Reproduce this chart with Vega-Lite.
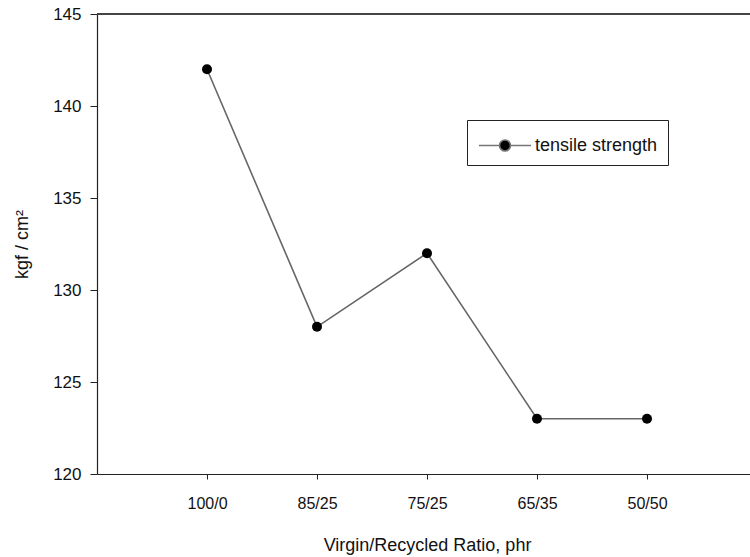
{
  "$schema": "https://vega.github.io/schema/vega-lite/v6.json",
  "autosize": {"type": "none"},
  "padding": {"left": 97, "top": 14, "right": 0, "bottom": 83},
  "width": 660,
  "height": 460,
  "background": "white",
  "config": {
    "font": "Liberation Sans",
    "view": {"stroke": null},
    "axis": {"labelFont": "Liberation Sans", "titleFont": "Liberation Sans", "grid": false, "domainColor": "#222", "tickColor": "#222", "labelColor": "#111", "titleColor": "#111", "titleFontWeight": "normal", "domainWidth": 1.2}
  },
  "data": {"values": [
    {"ratio": "100/0", "kgf": 142, "series": "tensile strength"},
    {"ratio": "85/25", "kgf": 128, "series": "tensile strength"},
    {"ratio": "75/25", "kgf": 132, "series": "tensile strength"},
    {"ratio": "65/35", "kgf": 123, "series": "tensile strength"},
    {"ratio": "50/50", "kgf": 123, "series": "tensile strength"}
  ]},
  "encoding": {
    "x": {"field": "ratio", "type": "ordinal", "sort": null,
      "scale": {"type": "point", "padding": 1},
      "axis": {"title": "Virgin/Recycled Ratio, phr", "labelAngle": 0, "labelFontSize": 16, "titleFontSize": 18, "tickSize": 5, "labelPadding": 16, "titlePadding": 25}},
    "y": {"field": "kgf", "type": "quantitative",
      "scale": {"domain": [120, 145], "nice": false, "zero": false},
      "axis": {"title": "kgf / cm²", "values": [120, 125, 130, 135, 140, 145], "labelFontSize": 17, "titleFontSize": 18, "tickSize": 7, "labelPadding": 9, "titlePadding": 21}}
  },
  "layer": [
    {"mark": {"type": "rule", "color": "#444", "strokeWidth": 1.5},
     "encoding": {"y": {"datum": 145}, "x": null}},
    {"mark": {"type": "line", "color": "#666", "strokeWidth": 1.6}},
    {"mark": {"type": "point", "filled": true, "size": 100, "opacity": 1},
     "encoding": {
       "color": {"field": "series", "type": "nominal", "scale": {"range": ["black"]},
         "legend": {"title": null, "orient": "none", "legendX": 370, "legendY": 106,
           "strokeColor": "#222", "fillColor": "white", "padding": 10,
           "labelFontSize": 18, "labelColor": "#111", "labelFont": "Liberation Sans",
           "symbolType": "M-1.8,0L-0.4,0M0.4,0L1.8,0M-0.38,0A0.38,0.38,0,1,0,0.38,0A0.38,0.38,0,1,0,-0.38,0Z",
           "symbolSize": 841, "symbolStrokeColor": "#777", "symbolFillColor": "black", "symbolStrokeWidth": 1.6,
           "symbolOffset": 12.5, "labelOffset": 14.5}}
     }}
  ]
}
